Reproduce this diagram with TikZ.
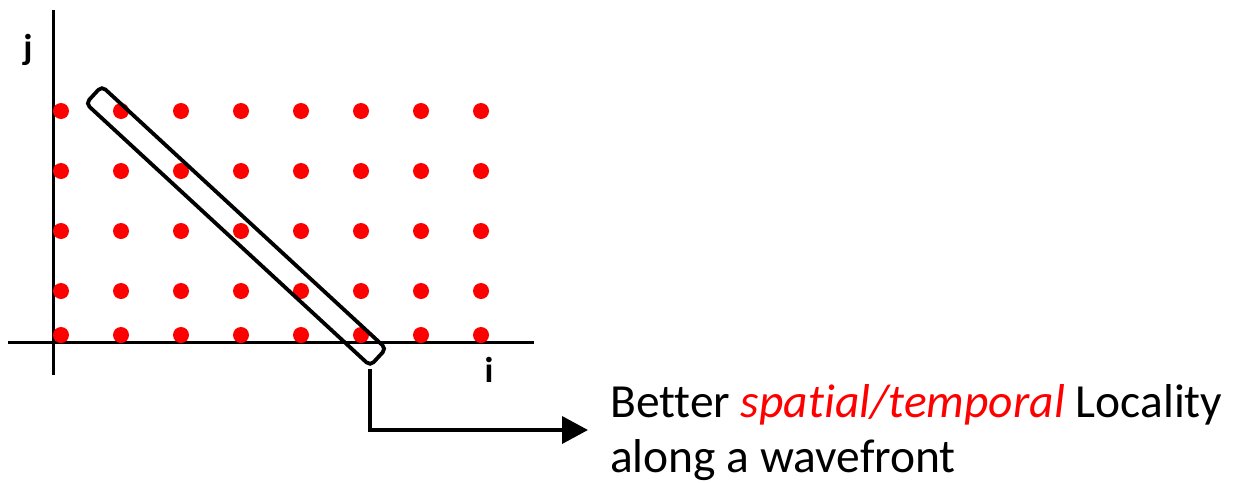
\documentclass[tikz,border=0pt]{standalone}
\usepackage{fontspec}
\setmainfont{Carlito}[Ligatures=NoCommon]
\usetikzlibrary{arrows.meta}
\definecolor{dotred}{RGB}{255,0,0}
\tikzset{
  axis/.style={line width=3pt},
  dotnode/.style={circle, fill=dotred, inner sep=0pt, minimum size=16pt},
  wavebox/.style={draw, line width=3.8pt, rounded corners=5pt, minimum width=387pt, minimum height=23.5pt, inner sep=0pt},
  conn/.style={line width=3.8pt, -{Triangle[length=26pt,width=27pt]}},
  axlabel/.style={font=\fontsize{36}{36}\selectfont\bfseries, inner sep=0pt},
  note/.style={font=\fontsize{47.5}{55}\selectfont, align=left, inner sep=0pt, anchor=base west}
}
\begin{document}
\begin{tikzpicture}[x=1pt,y=-1pt]
\useasboundingbox (0,0) rectangle (1234,482);
\coordinate (ytop) at (53,10);
\coordinate (ybot) at (53,375);
\coordinate (xl) at (8,342);
\coordinate (xr) at (534,342);
\draw[axis] (ytop) -- (ybot);
\draw[axis] (xl) -- (xr);
\foreach \c [count=\ci] in {61,121,181,241,301,361,421,481}{
  \foreach \r [count=\ri] in {111,171,231,291,335}{
    \node[dotnode] (d\ci-\ri) at (\c,\r) {};
  }
}
\node[wavebox, rotate=-42.7] (wf) at (236,226) {};
\node[axlabel] (jl) at (28,50) {j};
\node[axlabel] (il) at (489,370) {i};
\coordinate (aend) at (588,430);
\draw[conn] (wf.south east) |- (aend);
\node[note] (txt) at (610,472) {Better \textcolor{dotred}{\itshape spatial/temporal} Locality\\along a wavefront};
\end{tikzpicture}
\end{document}
